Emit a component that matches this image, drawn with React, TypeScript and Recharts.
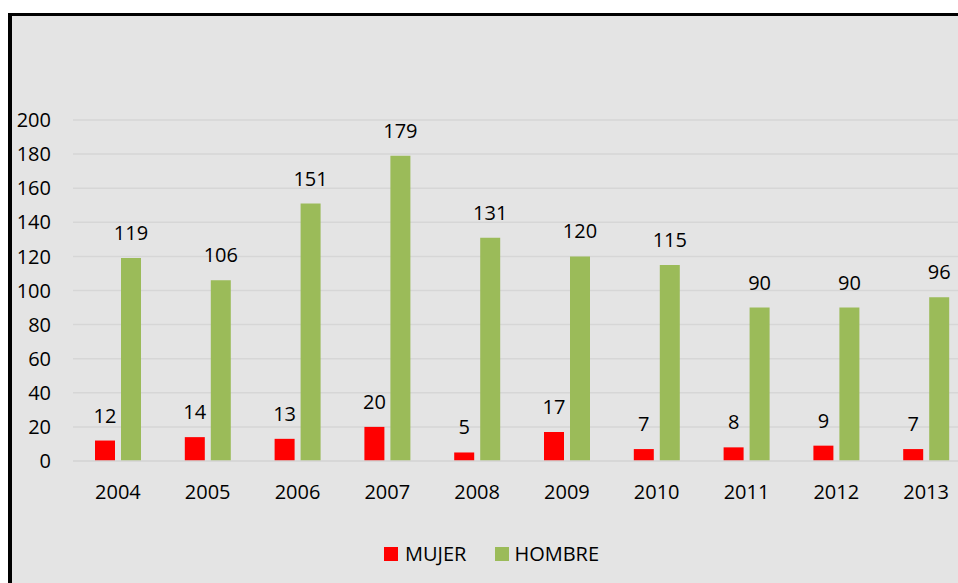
import React from "react";
import { BarChart, Bar, XAxis, YAxis, CartesianGrid, Legend, LabelList } from "recharts";

const years = ["2004", "2005", "2006", "2007", "2008", "2009", "2010", "2011", "2012", "2013"];
const mujer = [12, 14, 13, 20, 5, 17, 7, 8, 9, 7];
const hombre = [119, 106, 151, 179, 131, 120, 115, 90, 90, 96];
const yTicks = [0, 20, 40, 60, 80, 100, 120, 140, 160, 180, 200];
const legendOrder = ["MUJER", "HOMBRE"];

const data = years.map((y, i) => ({ year: y, MUJER: mujer[i], HOMBRE: hombre[i] }));

const FONT = "'Open Sans', 'Noto Sans', sans-serif";

const renderLegend = (props: any) => {
  const payload = [...(props.payload || [])].sort(
    (a: any, b: any) => legendOrder.indexOf(a.value) - legendOrder.indexOf(b.value)
  );
  return (
    <div style={{ display: "flex", alignItems: "center", fontFamily: FONT, fontSize: 20, color: "#000" }}>
      {payload.map((p: any, i: number) => (
        <div key={i} style={{ display: "flex", alignItems: "center", marginRight: i === 0 ? 29 : 0 }}>
          <span style={{ display: "inline-block", width: 14, height: 14, background: p.color, marginRight: i === 0 ? 7 : 5 }} />
          <span style={{ lineHeight: "20px" }}>{p.value}</span>
        </div>
      ))}
    </div>
  );
};

export default function App() {
  return (
    <div
      style={{
        position: "fixed",
        left: 8,
        top: 13,
        width: 950,
        height: 570,
        boxSizing: "border-box",
        borderLeft: "4px solid #000",
        borderTop: "3px solid #000",
        background: "#e4e4e4",
        overflow: "hidden",
      }}
    >
      <BarChart
        width={1000}
        height={567}
        data={data}
        margin={{ top: 104, right: 41, left: 0, bottom: 52 }}
        barSize={20}
        barGap={6}
      >
        <CartesianGrid horizontal={true} vertical={false} stroke="#d6d6d6" strokeWidth={1.5} />
        <XAxis
          dataKey="year"
          height={40}
          tickLine={false}
          tickSize={0}
          tickMargin={24}
          axisLine={{ stroke: "#d6d6d6", strokeWidth: 1.5 }}
          tick={{ fill: "#000", fontSize: 20, fontFamily: FONT }}
          interval={0}
        />
        <YAxis
          width={61}
          domain={[0, 200]}
          ticks={yTicks}
          tickLine={false}
          tickSize={0}
          tickMargin={22}
          axisLine={false}
          tick={{ fill: "#000", fontSize: 20, fontFamily: FONT }}
          interval={0}
        />
        <Legend
          verticalAlign="bottom"
          height={30}
          content={renderLegend}
          wrapperStyle={{ top: 528, left: 372, width: "auto", height: 30 }}
        />
        <Bar dataKey="MUJER" fill="#ff0000" isAnimationActive={false}>
          <LabelList dataKey="MUJER" position="top" offset={18} fill="#000" fontSize={20} fontFamily={FONT} />
        </Bar>
        <Bar dataKey="HOMBRE" fill="#9bbb59" isAnimationActive={false}>
          <LabelList dataKey="HOMBRE" position="top" offset={18} fill="#000" fontSize={20} fontFamily={FONT} />
        </Bar>
      </BarChart>
    </div>
  );
}
